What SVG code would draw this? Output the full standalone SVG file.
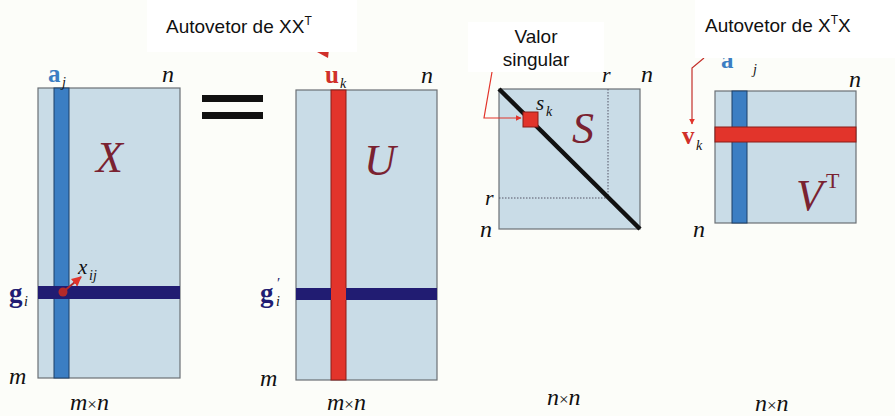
<svg xmlns="http://www.w3.org/2000/svg" width="895" height="416" viewBox="0 0 895 416">
<style>
.mat{fill:#c9dce7;stroke:#6b7075;stroke-width:1.2}
.col{fill:#3b7ec3;stroke:#1d3f66;stroke-width:1}
.band{fill:#211c72}
.red{fill:#e2342b;stroke:#8a1d18;stroke-width:1}
.lab{font-family:"Liberation Sans",Arial,sans-serif;font-size:19px;fill:#111}
.it{font-family:"Liberation Serif","Times New Roman",serif;font-style:italic;fill:#111}
.big{font-family:"Liberation Serif","Times New Roman",serif;font-style:italic;font-size:44px;fill:#7a2231}
.bold{font-family:"Liberation Serif","Times New Roman",serif;font-weight:bold}
</style>
<defs>
<marker id="ah" viewBox="0 0 10 10" refX="9" refY="5" markerWidth="5" markerHeight="5" orient="auto"><path d="M0,0 L10,5 L0,10 z" fill="#e2342b"/></marker>
</defs>
<rect width="895" height="416" fill="#fcfdf9"/>

<g id="X">
<rect class="mat" x="38" y="88" width="142" height="290"/>
<rect class="col" x="54" y="88" width="15" height="290"/>
<rect class="band" x="38" y="286" width="142" height="13"/>
<circle cx="63" cy="292" r="4.5" fill="#b32a2a"/>
<text class="big" x="96" y="172">X</text>
<text class="bold" x="48" y="82" font-size="25" fill="#3b7ec3">a</text>
<text class="it" x="62" y="87" font-size="14" fill="#3b7ec3">j</text>
<text class="it" x="162" y="82" font-size="24">n</text>
<text class="bold" x="9" y="302" font-size="27" fill="#211c72">g</text>
<text class="it" x="24" y="306" font-size="14" fill="#211c72">i</text>
<text class="it" x="9" y="384" font-size="24">m</text>
<text class="it" x="78" y="274" font-size="21" fill="#4a1e28">x</text>
<text class="it" x="89" y="280" font-size="14" fill="#4a1e28">ij</text>
<text class="it" x="70" y="410" font-size="24">m<tspan font-style="normal" font-size="17">×</tspan>n</text>
</g>

<g id="equals">
<rect x="202" y="95" width="61" height="7" fill="#111"/>
<rect x="202" y="112" width="61" height="7" fill="#111"/>
</g>

<g id="U">
<rect class="mat" x="296" y="90" width="141" height="290"/>
<rect class="red" x="331" y="90" width="15" height="290"/>
<rect class="band" x="296" y="288" width="141" height="12"/>
<rect x="331" y="288" width="15" height="12" fill="#e2342b"/>
<text class="big" x="364" y="175">U</text>
<text class="bold" x="325" y="83" font-size="25" fill="#d0302a">u</text>
<text class="it" x="340" y="88" font-size="14" fill="#d0302a">k</text>
<text class="it" x="421" y="83" font-size="24">n</text>
<text class="bold" x="260" y="302" font-size="27" fill="#211c72">g</text>
<text class="it" x="276" y="306" font-size="14" fill="#211c72">i</text>
<text x="277" y="288" font-size="15" fill="#211c72" font-family="Liberation Serif,serif">′</text>
<text class="it" x="260" y="386" font-size="24">m</text>
<text class="it" x="327" y="410" font-size="24">m<tspan font-style="normal" font-size="17">×</tspan>n</text>
<path d="M317,52 L329,49 L328,58 z" fill="#d0302a"/>
</g>

<g id="S">
<rect class="mat" x="499" y="89" width="141" height="140"/>
<line x1="608" y1="89" x2="608" y2="198" stroke="#556" stroke-width="1" stroke-dasharray="1.5,1.5"/>
<line x1="499" y1="198" x2="608" y2="198" stroke="#556" stroke-width="1" stroke-dasharray="1.5,1.5"/>
<line x1="499" y1="89" x2="640" y2="229" stroke="#111" stroke-width="4.5"/>
<rect class="red" x="523" y="112" width="15" height="15"/>
<text class="big" x="572" y="143" font-size="42">S</text>
<text class="it" x="536" y="110" font-size="21" fill="#d0403a">s</text>
<text class="it" x="546" y="116" font-size="14" fill="#d0403a">k</text>
<text class="it" x="602" y="82" font-size="22">r</text>
<text class="it" x="641" y="82" font-size="24">n</text>
<text class="it" x="485" y="205" font-size="22">r</text>
<text class="it" x="480" y="237" font-size="24">n</text>
<text class="it" x="547" y="405" font-size="24">n<tspan font-style="normal" font-size="17">×</tspan>n</text>
</g>

<g id="VT">
<rect class="mat" x="715" y="91" width="141" height="132"/>
<rect class="col" x="732" y="91" width="15" height="132"/>
<rect class="red" x="715" y="127" width="141" height="15"/>
<text class="big" x="796" y="210" font-size="42">V</text>
<text x="826" y="188" font-size="22" fill="#7a2231" font-family="Liberation Serif,serif">T</text>
<text class="bold" x="721" y="68" font-size="25" fill="#3b7ec3">a</text>
<text class="it" x="753" y="74" font-size="14" fill="#3b7ec3">j</text>
<text class="bold" x="682" y="144" font-size="25" fill="#d0302a">v</text>
<text class="it" x="696" y="150" font-size="14" fill="#d0302a">k</text>
<text class="it" x="849" y="87" font-size="24">n</text>
<text class="it" x="693" y="237" font-size="24">n</text>
<text class="it" x="755" y="411" font-size="24">n<tspan font-style="normal" font-size="17">×</tspan>n</text>
</g>

<g id="connectors">
<line x1="63" y1="292" x2="81" y2="277" stroke="#b32a2a" stroke-width="2" marker-end="url(#ah)"/>
<path d="M492,72 L484,118 L521,118" fill="none" stroke="#e2342b" stroke-width="1.2" marker-end="url(#ah)"/>
<path d="M704,58 L692,68 L692,124" fill="none" stroke="#c4302a" stroke-width="1.2" marker-end="url(#ah)"/>
</g>

<g id="label-XXT">
<rect x="147" y="0" width="210" height="52" fill="#ffffff"/>
<text class="lab" x="166" y="33">Autovetor de XX<tspan font-size="12" dy="-8">T</tspan></text>
</g>
<g id="label-XTX">
<rect x="695" y="0" width="200" height="58" fill="#ffffff"/>
<text class="lab" x="705" y="32">Autovetor de X<tspan font-size="12" dy="-8">T</tspan><tspan dy="8">X</tspan></text>
</g>
<g id="label-valor">
<rect x="468" y="22" width="136" height="50" fill="#ffffff"/>
<text class="lab" x="536" y="43" text-anchor="middle">Valor</text>
<text class="lab" x="536" y="66" text-anchor="middle">singular</text>
</g>
</svg>
